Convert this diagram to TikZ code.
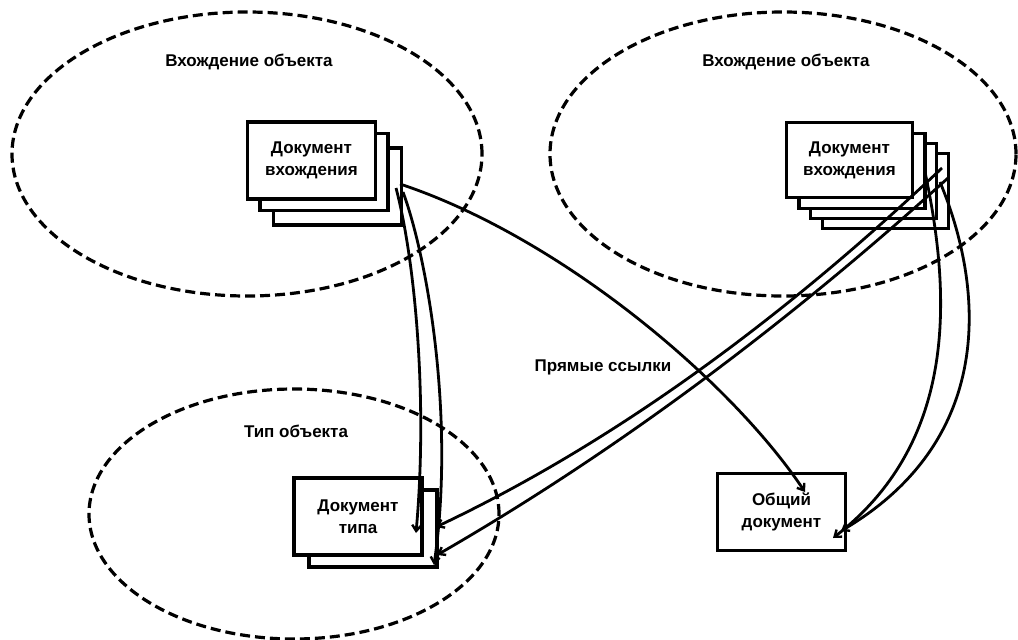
\documentclass[tikz,border=0pt]{standalone}
\usepackage{fontspec}
\setmainfont{Liberation Sans}
\usetikzlibrary{arrows.meta}
\begin{document}
\begin{tikzpicture}[x=1pt,y=-1pt,
  zone/.style={draw, line width=3.2pt, dash pattern=on 10pt off 5pt},
  docbox/.style={draw, fill=white, line width=3.8pt, inner sep=0pt,
    minimum width=128pt, minimum height=77pt, align=center,
    font=\bfseries\fontsize{17}{22}\selectfont},
  backbox/.style={docbox, line width=3.2pt},
  zonetext/.style={font=\bfseries\fontsize{17}{22}\selectfont, inner sep=0pt},
  refline/.style={line width=2.8pt, -{Straight Barb[length=6pt,width=9pt,line width=2.4pt]}},
]
\useasboundingbox (0,0) rectangle (1018,640);

% zones
\draw[zone] (247,154) ellipse [x radius=235pt, y radius=142pt];
\draw[zone] (783,154) ellipse [x radius=233pt, y radius=142pt];
\draw[zone] (294,514) ellipse [x radius=205pt, y radius=125pt];

\node[zonetext] (z1) at (249,62) {Вхождение объекта};
\node[zonetext] (z2) at (786,62) {Вхождение объекта};
\node[zonetext] (z3) at (296,431) {Тип объекта};
\node[zonetext] (refs) at (603,367) {Прямые ссылки};

% top-left stack
\node[backbox] (tl3) at (337.5,186.5) {};
\node[backbox] (tl2) at (324,172) {};
\node[docbox]  (tl1) at (311.5,160.5) {Документ\\вхождения};

% top-right stack
\node[backbox, minimum width=126pt, minimum height=75pt] (tr4) at (885.5,191) {};
\node[backbox, minimum width=126pt, minimum height=75pt] (tr3) at (873.5,181) {};
\node[backbox, minimum width=126pt, minimum height=75pt] (tr2) at (862,171) {};
\node[docbox,  minimum width=126pt, minimum height=75pt] (tr1) at (849.5,160) {Документ\\вхождения};

% type document
\node[backbox] (ty2) at (373,528.5) {};
\node[docbox]  (ty1) at (358,516.5) {Документ\\типа};

% common document
\node[docbox, minimum width=128pt, minimum height=77pt] (cm) at (781.5,512) {Общий\\документ};

% connector ends
\coordinate (a1s) at (396,188);
\coordinate (a1e) at (416,533);
\coordinate (a2s) at (403,192);
\coordinate (a2e) at (434,565);
\coordinate (bs)  at (400,184);
\coordinate (be)  at (805,492);
\coordinate (c1s) at (942,168);
\coordinate (c1e) at (436,527);
\coordinate (c2s) at (948,178);
\coordinate (c2e) at (437,555);
\coordinate (d1s) at (925,172);
\coordinate (d1e) at (833,538);
\coordinate (d2s) at (940,182);
\coordinate (d2e) at (841,531);

\draw[refline] (a1s) .. controls (415,260) and (428,400) .. (a1e);
\draw[refline] (a2s) .. controls (428,260) and (455,420) .. (a2e);
\draw[refline] (bs)  .. controls (560,237) and (730,380) .. (be);
\draw[refline] (c1s) .. controls (773,328) and (605,447) .. (c1e);
\draw[refline] (c2s) .. controls (778,332) and (607,457) .. (c2e);
\draw[refline] (d1s) .. controls (950,290) and (960,440) .. (d1e);
\draw[refline] (d2s) .. controls (985,290) and (995,440) .. (d2e);
\end{tikzpicture}
\end{document}
